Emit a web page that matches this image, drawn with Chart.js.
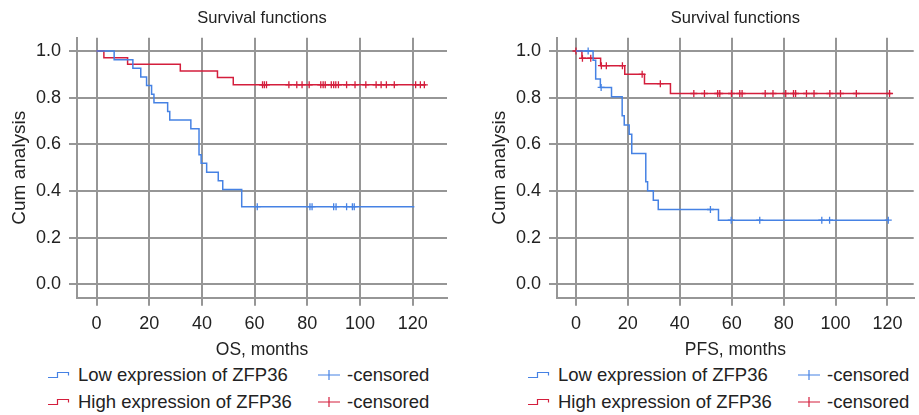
<!DOCTYPE html>
<html>
<head>
<meta charset="utf-8">
<script src="https://cdn.jsdelivr.net/npm/chart.js@4"></script>
<style>
body{margin:0;background:#fff;width:919px;height:415px;position:relative;overflow:hidden;font-family:"Liberation Sans",Arial,sans-serif;color:#222}
canvas{position:absolute;top:0}
.leg{position:absolute;font-size:18.5px;line-height:22px;white-space:nowrap}
.ico{position:absolute}
</style>
</head>
<body>
<canvas id="os" width="460" height="362" style="left:0"></canvas>
<canvas id="pfs" width="439" height="362" style="left:480px"></canvas>
<div id="legends"></div>
<script>
// overall survival (months) - event times and survival after each drop
var osLowTimes = [0, 6.7, 13.8, 16.8, 19.0, 20.9, 21.8, 27.0, 27.8, 35.8, 38.9, 39.7, 41.8, 46.2, 47.9, 55.1, 120.6];
var osLowSurv  = [1, 0.963, 0.926, 0.889, 0.852, 0.815, 0.778, 0.741, 0.704, 0.667, 0.556, 0.519, 0.481, 0.444, 0.407, 0.333, 0.333];
var osLowCensored = [61.0, 81.0, 81.8, 90.0, 90.9, 94.9, 97.1, 97.8];

var osHighTimes = [0, 2.8, 11.8, 31.8, 45.9, 51.9, 125];
var osHighSurv  = [1, 0.971, 0.943, 0.914, 0.886, 0.855, 0.855];
var osHighCensored = [63.0, 63.7, 64.5, 73.0, 76.0, 78.0, 80.7, 85.1, 86.0, 86.8, 89.1, 90.0, 90.8, 91.8, 94.9, 98.1, 102.2, 106.1, 108.0, 110.0, 113.0, 121.1, 122.9, 124.4];

// progression free survival (months)
var pfsLowTimes = [0, 6.6, 7.6, 9.4, 13.7, 17.8, 18.6, 20.5, 21.5, 26.9, 27.6, 29.8, 31.7, 54.9, 120.6];
var pfsLowSurv  = [1, 0.96, 0.88, 0.844, 0.804, 0.723, 0.683, 0.643, 0.561, 0.44, 0.401, 0.361, 0.321, 0.275, 0.275];
var pfsLowCensored = [4.7, 9.7, 51.8, 59.8, 70.8, 94.7, 97.7, 120.3];

var pfsHighTimes = [0, 2.3, 9.5, 18.8, 26.4, 36.4, 121.5];
var pfsHighSurv  = [1, 0.969, 0.937, 0.9, 0.86, 0.818, 0.818];
var pfsHighCensored = [0, 2.5, 5.7, 9.8, 11.7, 17.9, 25.5, 32.5, 45.4, 49.5, 54.6, 55.4, 59.9, 63.1, 64.0, 72.9, 75.9, 80.8, 83.8, 84.6, 88.8, 91.7, 97.8, 101.9, 108.0, 120.8];

var xTicks = [0, 20, 40, 60, 80, 100, 120];
var yTicks = [0, 0.2, 0.4, 0.6, 0.8, 1.0];
var groupLabels = ['Low expression of ZFP36', 'High expression of ZFP36'];
var censorLabel = '-censored';

var blue = 'rgb(70,130,228)';
var red = 'rgb(212,30,60)';
var gridGray = 'rgb(150,150,150)';
var txt = '#222';
var fam = '"Liberation Sans", Arial, sans-serif';

function steps(times, surv) {
  return times.map(function (t, i) { return {x: t, y: surv[i]}; });
}
// survival level at a censor time
function censorPts(cens, times, surv) {
  return cens.map(function (c) {
    var s = surv[0];
    for (var i = 0; i < times.length; i++) { if (times[i] <= c) s = surv[i]; }
    return {x: c, y: s};
  });
}

function makeKM(id, xTitle, low, high, xMin, xMax, padRight) {
  var ctx = document.getElementById(id).getContext('2d');
  return new Chart(ctx, {
    type: 'line',
    data: {
      datasets: [
        {data: steps(low[0], low[1]), borderColor: blue, borderWidth: 1.5, stepped: true, pointRadius: 0, fill: false},
        {data: steps(high[0], high[1]), borderColor: red, borderWidth: 1.5, stepped: true, pointRadius: 0, fill: false},
        {data: censorPts(low[2], low[0], low[1]), showLine: false, pointStyle: 'cross', pointRadius: 3.5, borderColor: blue, pointBorderWidth: 1.3},
        {data: censorPts(high[2], high[0], high[1]), showLine: false, pointStyle: 'cross', pointRadius: 3.5, borderColor: red, pointBorderWidth: 1.3}
      ]
    },
    options: {
      responsive: false,
      animation: false,
      layout: {padding: {left: 0, right: padRight, top: 0, bottom: 0}},
      plugins: {
        legend: {display: false},
        tooltip: {enabled: false},
        title: {display: false}
      },
      scales: {
        // top axis only carries the chart title, centred over the plot
        top: {
          type: 'linear', position: 'top', min: xMin, max: xMax,
          afterFit: function (s) { s.height = 37.7; },
          ticks: {display: false},
          grid: {display: false, drawTicks: false},
          border: {display: false},
          title: {display: true, text: 'Survival functions', color: txt, padding: {top: 8.4, bottom: 0},
            font: {family: fam, size: 16.5}}
        },
        x: {
          type: 'linear', min: xMin, max: xMax,
          afterBuildTicks: function (s) { s.ticks = xTicks.map(function (v) { return {value: v}; }); },
          afterFit: function (s) { s.height = 64.3; },
          ticks: {color: txt, padding: 8, maxRotation: 0, autoSkip: false,
            font: {family: fam, size: 18}},
          grid: {color: gridGray, lineWidth: 2, tickLength: 8},
          border: {color: gridGray, width: 2},
          title: {display: true, text: xTitle, color: txt, padding: {top: 0, bottom: 1.5},
            font: {family: fam, size: 17.5}}
        },
        y: {
          min: -0.057, max: 1.057,
          afterBuildTicks: function (s) { s.ticks = yTicks.map(function (v) { return {value: v}; }); },
          afterFit: function (s) { s.width = 77; },
          ticks: {color: txt, padding: 8, callback: function (v) { return v.toFixed(1); },
            font: {family: fam, size: 18}},
          grid: {color: gridGray, lineWidth: 2, tickLength: 8},
          border: {color: gridGray, width: 2},
          title: {display: true, text: 'Cum analysis', color: txt, padding: {top: 8.6, bottom: 0},
            font: {family: fam, size: 19}}
        }
      }
    }
  });
}

makeKM('os', 'OS, months', [osLowTimes, osLowSurv, osLowCensored], [osHighTimes, osHighSurv, osHighCensored], -7.4, 133, 13);
makeKM('pfs', 'PFS, months', [pfsLowTimes, pfsLowSurv, pfsLowCensored], [pfsHighTimes, pfsHighSurv, pfsHighCensored], -7.3, 130.1, 1);

// legends under each chart
var html = '';
[0, 480].forEach(function (ox) {
  [blue, red].forEach(function (col, r) {
    var cy = r === 0 ? 375 : 402;
    html += '<svg class="ico" style="left:' + (ox + 48) + 'px;top:' + (cy - 6) + 'px" width="22" height="12">' +
      '<path d="M0 8.5H9.5V3.5H20.5V6.5" fill="none" stroke="' + col + '" stroke-width="1.2"/></svg>';
    html += '<div class="leg" style="left:' + (ox + 78) + 'px;top:' + (cy - 11) + 'px">' + groupLabels[r] + '</div>';
    html += '<svg class="ico" style="left:' + (ox + 318) + 'px;top:' + (cy - 6) + 'px" width="23" height="12">' +
      '<path d="M0 6H22M11 1V11" fill="none" stroke="' + col + '" stroke-width="1.2"/></svg>';
    html += '<div class="leg" style="left:' + (ox + 347) + 'px;top:' + (cy - 11) + 'px">' + censorLabel + '</div>';
  });
});
document.getElementById('legends').innerHTML = html;
</script>
</body>
</html>
